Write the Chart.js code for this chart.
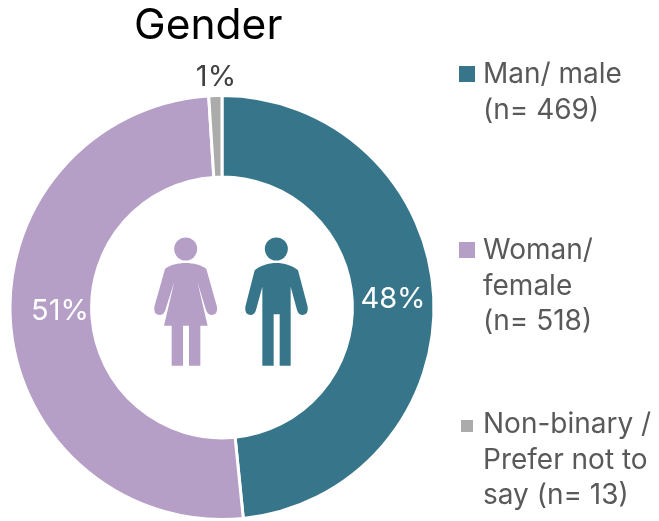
<!DOCTYPE html>
<html><head><meta charset="utf-8">
<script src="https://cdn.jsdelivr.net/npm/chart.js@4"></script>
<style>html,body{margin:0;padding:0;background:#fff}canvas{display:block}#w{width:659px;height:521px}</style>
</head><body><div id="w"><canvas id="c" width="659" height="521"></canvas></div>
<script>
const categories=['Man/ male (n= 469)','Woman/ female (n= 518)','Non-binary / Prefer not to say (n= 13)'];
const values=[48.4,50.6,1.0];
const percentLabels=['48%','51%','1%'];
const colors=['#37768A','#B59FC6','#ABABAB'];
const legendLines=[['Man/ male','(n= 469)'],['Woman/','female','(n= 518)'],['Non-binary /','Prefer not to','say (n= 13)']];
const chartTitle='Gender';
const FONT='Inter, Lato, sans-serif';

const overlay={id:'overlay',afterDraw(ch){
  const c=ch.ctx;
  c.save();
  c.textBaseline='alphabetic';c.textAlign='left';
  c.fillStyle='#000';c.font='400 42.5px '+FONT;c.fillText(chartTitle,134,39);
  c.font='400 29px '+FONT;c.textAlign='center';c.textBaseline='middle';
  c.fillStyle='#fff';
  c.fillText(percentLabels[0],393,299);
  c.fillText(percentLabels[1],60,311);
  c.fillStyle='#404040';c.fillText(percentLabels[2],216,77);
  c.textAlign='left';c.textBaseline='alphabetic';
  c.font='400 28px '+FONT;
  const ys=[83,259,433],bx=[459,459,461],bs=[16,16,12],by=[66,242,420];
  legendLines.forEach((ls,i)=>{
    c.fillStyle=colors[i];c.fillRect(bx[i],by[i],bs[i],bs[i]);
    c.fillStyle='#595959';
    ls.forEach((t,j)=>c.fillText(t,483,ys[i]+j*35.5));
  });
  c.translate(140,225);c.scale(1/3,1/3);
  c.fillStyle=colors[1];
  c.beginPath();c.arc(137,72,34.5,0,Math.PI*2);c.fill();
  c.beginPath();
  c.moveTo(137,114);c.bezierCurveTo(115,114,88,120,75,132);
  c.lineTo(43,245);c.quadraticCurveTo(40,268,58,270);c.quadraticCurveTo(72,270,76,255);
  c.lineTo(103,170);c.lineTo(72,302);c.lineTo(95,302);c.lineTo(95,422);c.lineTo(129,422);c.lineTo(129,302);
  c.lineTo(147,302);c.lineTo(147,422);c.lineTo(181,422);c.lineTo(181,302);c.lineTo(203,302);
  c.lineTo(172,170);c.lineTo(198,255);c.quadraticCurveTo(203,270,216,270);c.quadraticCurveTo(234,268,231,245);
  c.lineTo(199,132);c.bezierCurveTo(186,120,159,114,137,114);c.closePath();c.fill();
  c.fillStyle=colors[0];
  c.beginPath();c.arc(409,72,34.5,0,Math.PI*2);c.fill();
  c.beginPath();
  c.moveTo(409,114);c.bezierCurveTo(387,114,358,122,344,136);
  c.lineTo(316,245);c.quadraticCurveTo(313,268,331,270);c.quadraticCurveTo(344,270,348,255);
  c.lineTo(367,185);c.lineTo(367,422);c.lineTo(401,422);c.lineTo(401,268);c.lineTo(419,268);c.lineTo(419,422);c.lineTo(452,422);c.lineTo(452,185);
  c.lineTo(471,255);c.quadraticCurveTo(475,270,488,270);c.quadraticCurveTo(506,268,503,245);
  c.lineTo(474,136);c.bezierCurveTo(460,122,431,114,409,114);c.closePath();c.fill();
  c.restore();
}};

new Chart(document.getElementById('c'),{
  type:'doughnut',
  data:{labels:categories,datasets:[{data:values,backgroundColor:colors,borderColor:'#fff',borderWidth:3}]},
  options:{responsive:false,animation:false,cutout:'61.5%',
    layout:{padding:{left:7,right:222,top:94,bottom:-3}},
    plugins:{legend:{display:false},tooltip:{enabled:false},title:{display:false}}},
  plugins:[overlay]
});
</script></body></html>
